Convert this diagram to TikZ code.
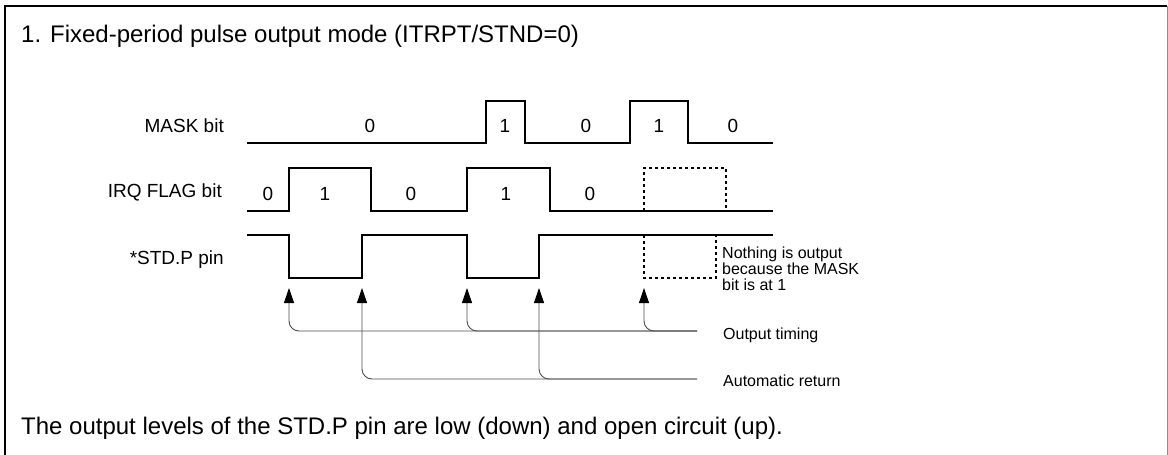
\documentclass[tikz,border=0pt]{standalone}
\usepackage{fontspec}
\setmainfont{Liberation Sans}
\usetikzlibrary{arrows.meta,positioning}

\begin{document}
\begin{tikzpicture}[x=1pt,y=-1pt]
    \tikzset{
      bigtext/.style={inner sep=0pt,font=\fontsize{24}{28}\selectfont},
      signalname/.style={inner sep=0pt,anchor=base east,font=\fontsize{19}{22}\selectfont},
      bitlabel/.style={inner sep=0pt,anchor=base,font=\fontsize{19}{22}\selectfont},
      arrowlabel/.style={inner sep=0pt,anchor=base west,font=\fontsize{16}{16}\selectfont},
      wave/.style={line width=1.5pt,black},
      dottedwave/.style={line width=1.4pt,black,dash pattern=on 3pt off 3pt},
      arrow/.style={-{Triangle[length=15pt,width=10pt,color=black]},line width=0.9pt,black!70,rounded corners=10pt}
    }
    \useasboundingbox (0,0) rectangle (1168,455);
    \draw[line width=2.5pt] (5,455) -- (5,6) -- (1167,6);
    \draw[line width=1pt,black!45] (1167,6) -- (1167,455);

    \node[bigtext,anchor=base west](title) at (21,42){1. Fixed-period pulse output mode (ITRPT/STND=0)};
    \node[bigtext,anchor=base west](note) at (21,434){The output levels of the STD.P pin are low (down) and open circuit (up).};

    \node[signalname](mask) at (224,132){MASK bit};
    \node[signalname](irq) at (222,197){IRQ FLAG bit};
    \node[signalname](stdp) at (224,264){*STD.P pin};

    \draw[wave] (247,143) -- (486,143) -- (486,101) -- (525,101) -- (525,143) -- (630,143) -- (630,101) -- (688,101) -- (688,143) -- (773,143);
    \node[bitlabel] at (370,132){0};
    \node[bitlabel] at (505,132){1};
    \node[bitlabel] at (586,132){0};
    \node[bitlabel] at (659,132){1};
    \node[bitlabel] at (733,132){0};

    \draw[wave] (247,211) -- (289,211) -- (289,168) -- (371,168) -- (371,211) -- (467,211) -- (467,168) -- (550,168) -- (550,211) -- (773,211);
    \draw[dottedwave] (644,211) -- (644,168) -- (726,168) -- (726,211);
    \node[bitlabel] at (268,200){0};
    \node[bitlabel] at (325,200){1};
    \node[bitlabel] at (411,200){0};
    \node[bitlabel] at (506,200){1};
    \node[bitlabel] at (590,200){0};

    \draw[wave] (247,235) -- (289,235) -- (289,278) -- (362,278) -- (362,235) -- (467,235) -- (467,278) -- (539,278) -- (539,235) -- (773,235);
    \draw[dottedwave] (644,235) -- (644,278) -- (716,278) -- (716,235);
    \node[inner sep=0pt,anchor=north west,align=left,font=\fontsize{16}{16}\selectfont](nothing) at (722,247){Nothing is output\\because the MASK\\bit is at 1};

    \coordinate (t1) at (289,288);
    \coordinate (t2) at (362,288);
    \coordinate (t3) at (467,288);
    \coordinate (t4) at (539,288);
    \coordinate (t5) at (644,288);
    \node[arrowlabel](timing) at (723,339){Output timing};
    \node[arrowlabel](return) at (723,386){Automatic return};
    \coordinate (timingend) at (697,331);
    \coordinate (returnend) at (697,379);

    \draw[arrow](timingend) -| (t1);
    \draw[arrow](timingend) -| (t3);
    \draw[arrow](timingend) -| (t5);
    \draw[arrow](returnend) -| (t2);
    \draw[arrow](returnend) -| (t4);
\end{tikzpicture}
\end{document}
